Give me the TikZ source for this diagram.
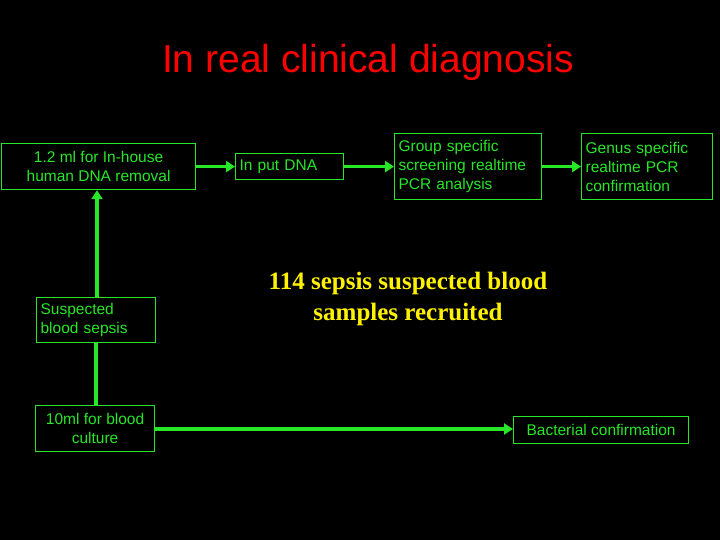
\documentclass[tikz,border=0pt]{standalone}
\usepackage{fontspec}
\setmainfont{Liberation Sans}
\newfontfamily\tnr{Liberation Serif}
\usetikzlibrary{arrows.meta}
\definecolor{gr}{RGB}{40,230,40}
\begin{document}
\begin{tikzpicture}[x=1pt,y=-1pt,
 bx/.style={draw=gr,line width=1.2pt,text=gr,font=\fontsize{15.5}{19}\selectfont,inner sep=0pt,anchor=north west},
 ar/.style={draw=gr,line width=3.2pt,-{Triangle[length=9pt,width=11pt]}},
 ln/.style={draw=gr,line width=3.2pt}]
\fill[black] (0,0) rectangle (720,540);
\useasboundingbox (0,0) rectangle (720,540);
\node[text=red,font=\fontsize{39}{44}\selectfont] (t) at (368,62) {In real clinical diagnosis};
\node[bx,minimum width=194pt,minimum height=46pt,align=center] (a) at (1,143) {1.2 ml for In-house\\human DNA removal};
\node[bx,minimum width=108pt,minimum height=26pt,text width=100pt,align=left] (b) at (235,153) {In put DNA};
\node[bx,minimum width=147pt,minimum height=66pt,text width=139pt,align=left] (c) at (394,133) {Group specific\\screening realtime\\PCR analysis};
\node[bx,minimum width=131pt,minimum height=66pt,text width=123pt,align=left] (d) at (581,133) {Genus specific\\realtime PCR\\confirmation};
\node[bx,minimum width=119pt,minimum height=45pt,text width=111pt,align=left] (e) at (36,297) {Suspected\\blood sepsis};
\node[bx,minimum width=119pt,minimum height=46pt,align=center] (f) at (35,405) {10ml for blood\\culture};
\node[bx,minimum width=175pt,minimum height=27pt,align=center] (g) at (513,416) {Bacterial confirmation};
\node[text=yellow,font=\tnr\bfseries\fontsize{25}{31}\selectfont,align=center] (y) at (408,299) {114 sepsis suspected blood\\samples recruited};
\draw[ar] (a.east) -- (b.west);
\draw[ar] (b.east) -- (c.west);
\draw[ar] (c.east) -- (d.west);
\draw[ar] (e.north -| 97,0) -- (a.south -| 97,0);
\draw[ln] (f.north -| 96,0) -- (e.south -| 96,0);
\draw[ar] (f.east |- 0,429) -- (g.west |- 0,429);
\end{tikzpicture}
\end{document}
